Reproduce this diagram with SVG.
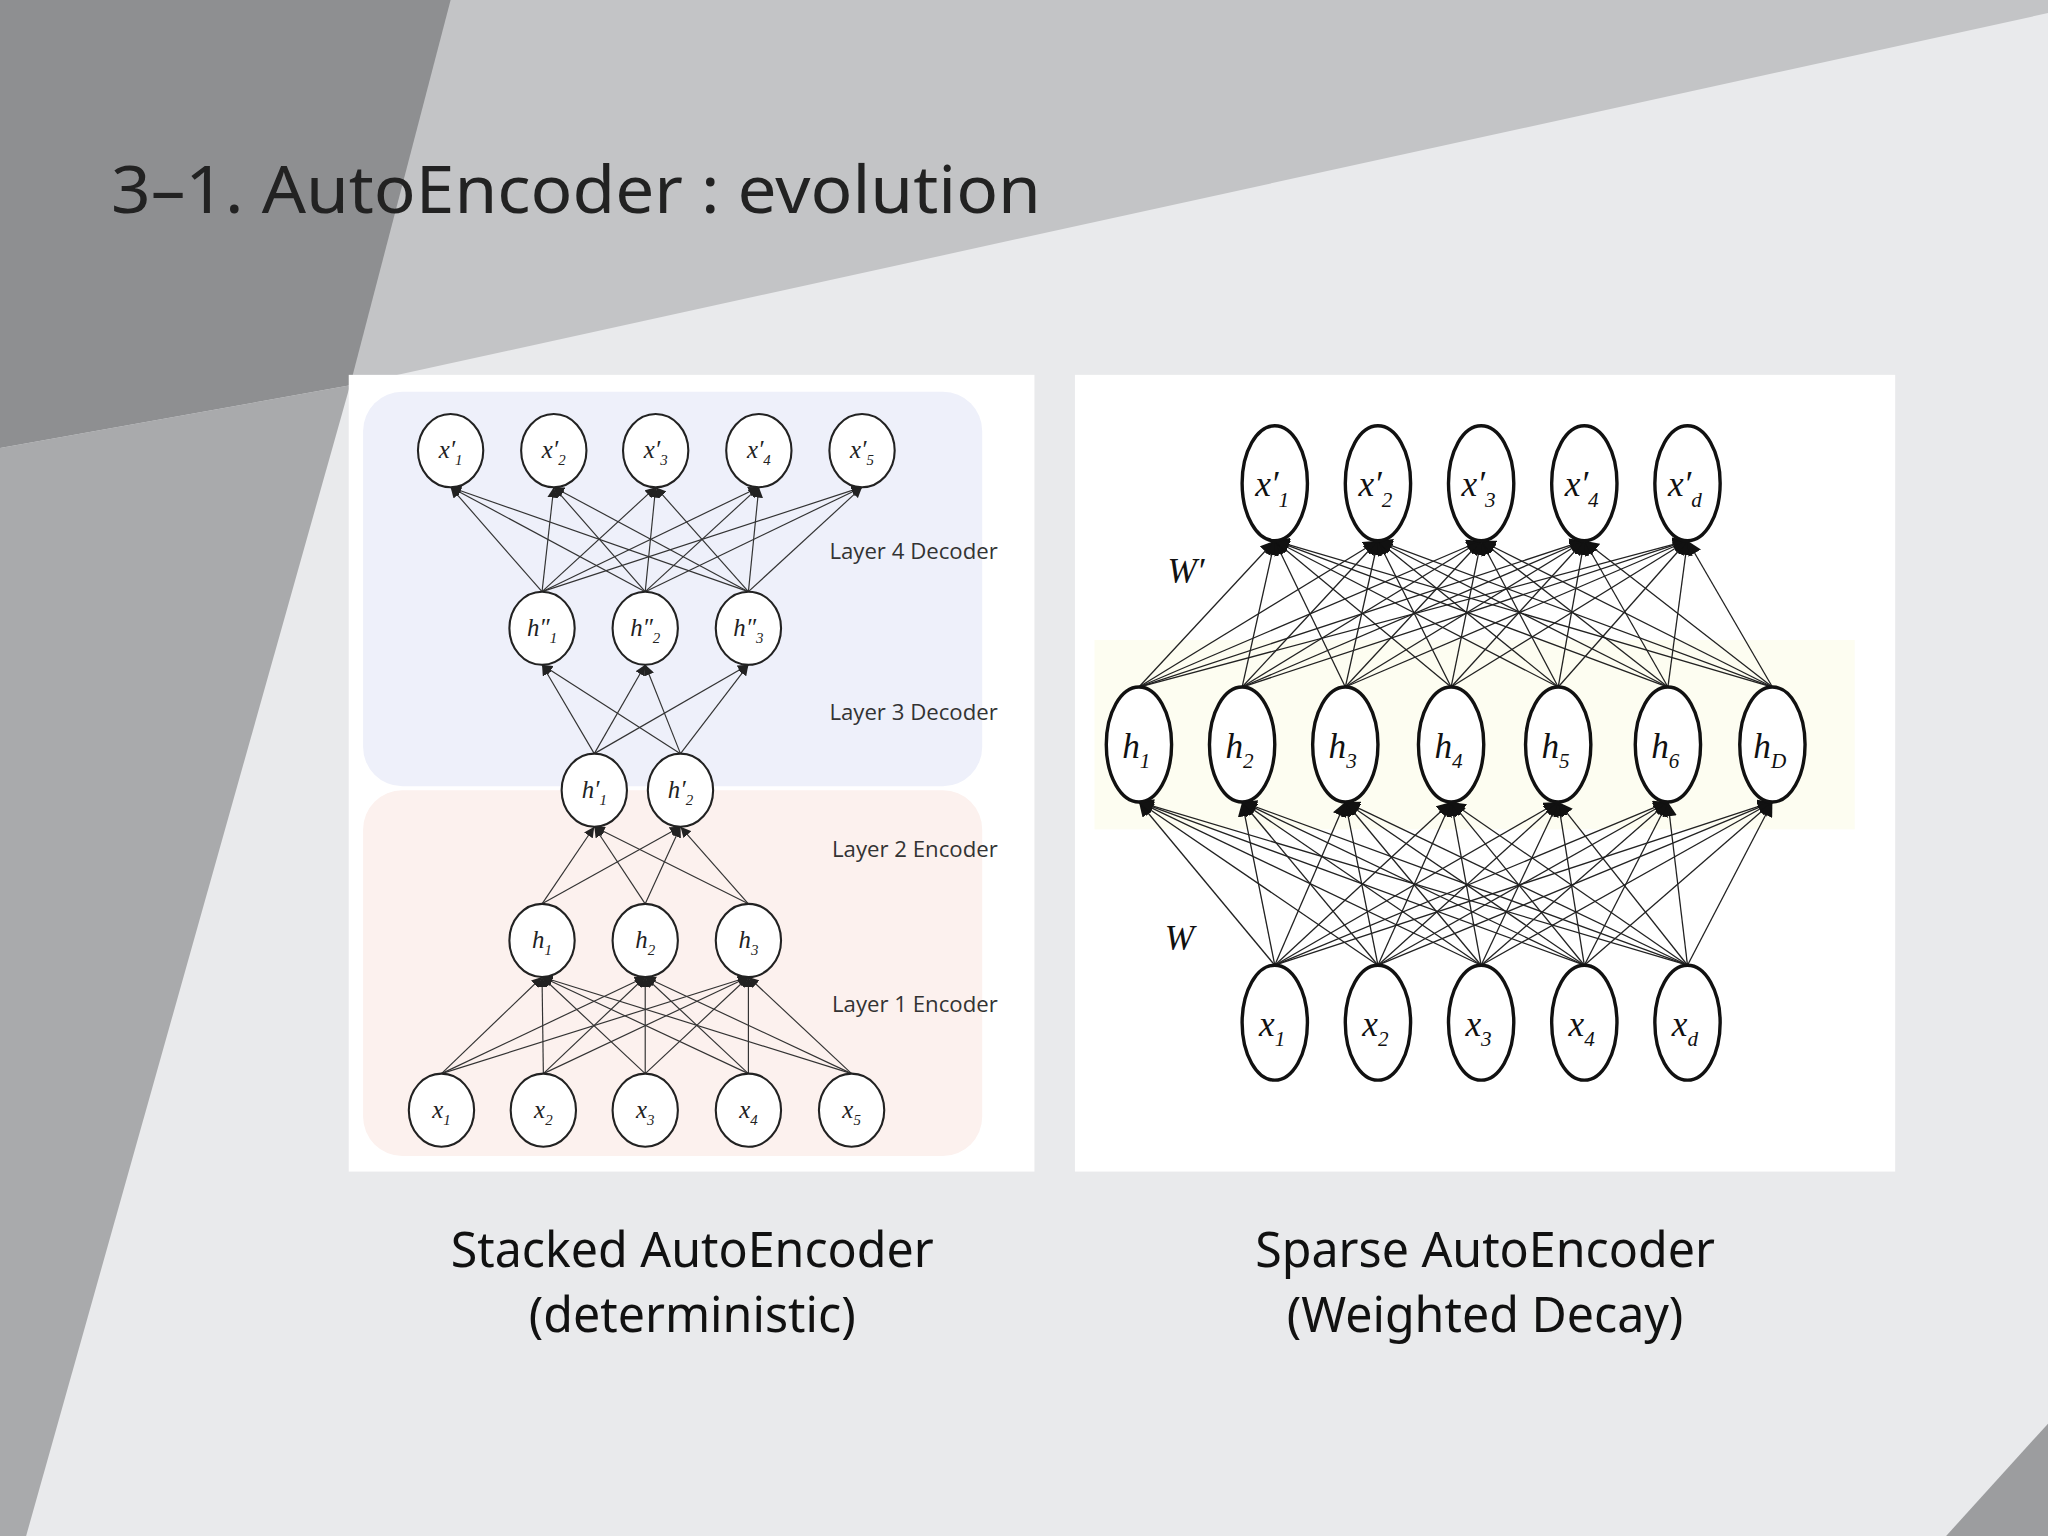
<svg xmlns="http://www.w3.org/2000/svg" width="2048" height="1536" viewBox="0 0 2048 1536">
<style>
.n{fill:#fff;stroke:#222;stroke-width:1.6}
.nr{fill:#fff;stroke:#111;stroke-width:2.6}
.e line{stroke:#333;stroke-width:0.9;marker-end:url(#a)}
.er line{stroke:#222;stroke-width:1;marker-end:url(#b)}
.l{font-family:'Liberation Serif',serif;font-style:italic;font-size:19px;fill:#222;text-anchor:middle}
.lr{font-family:'Liberation Serif',serif;font-style:italic;font-size:27px;fill:#111;text-anchor:middle}
.s{font-size:60%}
.ly{font-family:'Open Sans','DejaVu Sans',sans-serif;font-size:17px;fill:#333}
.cap{font-family:'Noto Sans','Open Sans',sans-serif;font-size:37px;fill:#111;text-anchor:middle}
</style>
<defs>
<marker id="a" viewBox="0 0 10 10" refX="10" refY="5" markerWidth="8" markerHeight="8" markerUnits="userSpaceOnUse" orient="auto"><path d="M0,0L10,5L0,10z" fill="#222"/></marker>
<marker id="b" viewBox="0 0 10 10" refX="10" refY="5" markerWidth="11" markerHeight="11" markerUnits="userSpaceOnUse" orient="auto"><path d="M0,0L10,5L0,10z" fill="#111"/></marker>
</defs>
<g transform="scale(1.30612)">
<g id="bg">
<rect width="1568" height="1176" fill="#e9eaec"/>
<polygon points="0,0 1568,0 1568,10 268,295 0,343" fill="#c3c4c6"/>
<polygon points="0,0 345,0 268,295 0,343" fill="#8e8f91"/>
<polygon points="0,343 268,295 20,1176 0,1176" fill="#a9aaac"/>
<polygon points="1490,1176 1568,1090 1568,1176" fill="#9c9d9f"/>
</g>
<text x="85" y="163" font-family="'Noto Sans','Open Sans',sans-serif" font-size="50" fill="#222" textLength="712" lengthAdjust="spacingAndGlyphs">3–1. AutoEncoder : evolution</text>

<g id="left-panel">
<rect x="267" y="287" width="525" height="610" fill="#fff"/>
<rect x="278" y="300" width="474" height="302" rx="30" fill="#eef0fa"/>
<rect x="278" y="605" width="474" height="280" rx="30" fill="#fcf1ee"/>
</g>
<g id="left-connectors" class="e">
<line x1="338" y1="822" x2="415" y2="748"/><line x1="338" y1="822" x2="494" y2="748"/><line x1="338" y1="822" x2="573" y2="748"/>
<line x1="416" y1="822" x2="415" y2="748"/><line x1="416" y1="822" x2="494" y2="748"/><line x1="416" y1="822" x2="573" y2="748"/>
<line x1="494" y1="822" x2="415" y2="748"/><line x1="494" y1="822" x2="494" y2="748"/><line x1="494" y1="822" x2="573" y2="748"/>
<line x1="573" y1="822" x2="415" y2="748"/><line x1="573" y1="822" x2="494" y2="748"/><line x1="573" y1="822" x2="573" y2="748"/>
<line x1="652" y1="822" x2="415" y2="748"/><line x1="652" y1="822" x2="494" y2="748"/><line x1="652" y1="822" x2="573" y2="748"/>
<line x1="415" y1="692" x2="455" y2="633"/><line x1="415" y1="692" x2="521" y2="633"/>
<line x1="494" y1="692" x2="455" y2="633"/><line x1="494" y1="692" x2="521" y2="633"/>
<line x1="573" y1="692" x2="455" y2="633"/><line x1="573" y1="692" x2="521" y2="633"/>
<line x1="455" y1="577" x2="415" y2="509"/><line x1="455" y1="577" x2="494" y2="509"/><line x1="455" y1="577" x2="573" y2="509"/>
<line x1="521" y1="577" x2="415" y2="509"/><line x1="521" y1="577" x2="494" y2="509"/><line x1="521" y1="577" x2="573" y2="509"/>
<line x1="415" y1="453" x2="345" y2="373"/><line x1="415" y1="453" x2="424" y2="373"/><line x1="415" y1="453" x2="502" y2="373"/><line x1="415" y1="453" x2="581" y2="373"/><line x1="415" y1="453" x2="660" y2="373"/>
<line x1="494" y1="453" x2="345" y2="373"/><line x1="494" y1="453" x2="424" y2="373"/><line x1="494" y1="453" x2="502" y2="373"/><line x1="494" y1="453" x2="581" y2="373"/><line x1="494" y1="453" x2="660" y2="373"/>
<line x1="573" y1="453" x2="345" y2="373"/><line x1="573" y1="453" x2="424" y2="373"/><line x1="573" y1="453" x2="502" y2="373"/><line x1="573" y1="453" x2="581" y2="373"/><line x1="573" y1="453" x2="660" y2="373"/>
</g>
<g id="left-nodes">
<g id="lx1"><ellipse class="n" cx="345" cy="345" rx="25" ry="28"/><text class="l" x="345" y="351">x′<tspan class="s" dy="5">1</tspan></text></g>
<g id="lx2"><ellipse class="n" cx="424" cy="345" rx="25" ry="28"/><text class="l" x="424" y="351">x′<tspan class="s" dy="5">2</tspan></text></g>
<g id="lx3"><ellipse class="n" cx="502" cy="345" rx="25" ry="28"/><text class="l" x="502" y="351">x′<tspan class="s" dy="5">3</tspan></text></g>
<g id="lx4"><ellipse class="n" cx="581" cy="345" rx="25" ry="28"/><text class="l" x="581" y="351">x′<tspan class="s" dy="5">4</tspan></text></g>
<g id="lx5"><ellipse class="n" cx="660" cy="345" rx="25" ry="28"/><text class="l" x="660" y="351">x′<tspan class="s" dy="5">5</tspan></text></g>
<g id="lhh1"><ellipse class="n" cx="415" cy="481" rx="25" ry="28"/><text class="l" x="415" y="487">h″<tspan class="s" dy="5">1</tspan></text></g>
<g id="lhh2"><ellipse class="n" cx="494" cy="481" rx="25" ry="28"/><text class="l" x="494" y="487">h″<tspan class="s" dy="5">2</tspan></text></g>
<g id="lhh3"><ellipse class="n" cx="573" cy="481" rx="25" ry="28"/><text class="l" x="573" y="487">h″<tspan class="s" dy="5">3</tspan></text></g>
<g id="lhp1"><ellipse class="n" cx="455" cy="605" rx="25" ry="28"/><text class="l" x="455" y="611">h′<tspan class="s" dy="5">1</tspan></text></g>
<g id="lhp2"><ellipse class="n" cx="521" cy="605" rx="25" ry="28"/><text class="l" x="521" y="611">h′<tspan class="s" dy="5">2</tspan></text></g>
<g id="lh1"><ellipse class="n" cx="415" cy="720" rx="25" ry="28"/><text class="l" x="415" y="726">h<tspan class="s" dy="5">1</tspan></text></g>
<g id="lh2"><ellipse class="n" cx="494" cy="720" rx="25" ry="28"/><text class="l" x="494" y="726">h<tspan class="s" dy="5">2</tspan></text></g>
<g id="lh3"><ellipse class="n" cx="573" cy="720" rx="25" ry="28"/><text class="l" x="573" y="726">h<tspan class="s" dy="5">3</tspan></text></g>
<g id="li1"><ellipse class="n" cx="338" cy="850" rx="25" ry="28"/><text class="l" x="338" y="856">x<tspan class="s" dy="5">1</tspan></text></g>
<g id="li2"><ellipse class="n" cx="416" cy="850" rx="25" ry="28"/><text class="l" x="416" y="856">x<tspan class="s" dy="5">2</tspan></text></g>
<g id="li3"><ellipse class="n" cx="494" cy="850" rx="25" ry="28"/><text class="l" x="494" y="856">x<tspan class="s" dy="5">3</tspan></text></g>
<g id="li4"><ellipse class="n" cx="573" cy="850" rx="25" ry="28"/><text class="l" x="573" y="856">x<tspan class="s" dy="5">4</tspan></text></g>
<g id="li5"><ellipse class="n" cx="652" cy="850" rx="25" ry="28"/><text class="l" x="652" y="856">x<tspan class="s" dy="5">5</tspan></text></g>
</g>
<text class="ly" x="635" y="428">Layer 4 Decoder</text>
<text class="ly" x="635" y="551">Layer 3 Decoder</text>
<text class="ly" x="637" y="656">Layer 2 Encoder</text>
<text class="ly" x="637" y="775">Layer 1 Encoder</text>

<g id="right-panel">
<rect x="823" y="287" width="628" height="610" fill="#fff"/>
<rect x="838" y="490" width="582" height="145" fill="#fdfdf1"/>
</g>
<g id="right-connectors" class="er">
<line x1="976" y1="739" x2="872" y2="614"/><line x1="976" y1="739" x2="951" y2="614"/><line x1="976" y1="739" x2="1030" y2="614"/><line x1="976" y1="739" x2="1111" y2="614"/><line x1="976" y1="739" x2="1193" y2="614"/><line x1="976" y1="739" x2="1277" y2="614"/><line x1="976" y1="739" x2="1357" y2="614"/>
<line x1="1055" y1="739" x2="872" y2="614"/><line x1="1055" y1="739" x2="951" y2="614"/><line x1="1055" y1="739" x2="1030" y2="614"/><line x1="1055" y1="739" x2="1111" y2="614"/><line x1="1055" y1="739" x2="1193" y2="614"/><line x1="1055" y1="739" x2="1277" y2="614"/><line x1="1055" y1="739" x2="1357" y2="614"/>
<line x1="1134" y1="739" x2="872" y2="614"/><line x1="1134" y1="739" x2="951" y2="614"/><line x1="1134" y1="739" x2="1030" y2="614"/><line x1="1134" y1="739" x2="1111" y2="614"/><line x1="1134" y1="739" x2="1193" y2="614"/><line x1="1134" y1="739" x2="1277" y2="614"/><line x1="1134" y1="739" x2="1357" y2="614"/>
<line x1="1213" y1="739" x2="872" y2="614"/><line x1="1213" y1="739" x2="951" y2="614"/><line x1="1213" y1="739" x2="1030" y2="614"/><line x1="1213" y1="739" x2="1111" y2="614"/><line x1="1213" y1="739" x2="1193" y2="614"/><line x1="1213" y1="739" x2="1277" y2="614"/><line x1="1213" y1="739" x2="1357" y2="614"/>
<line x1="1292" y1="739" x2="872" y2="614"/><line x1="1292" y1="739" x2="951" y2="614"/><line x1="1292" y1="739" x2="1030" y2="614"/><line x1="1292" y1="739" x2="1111" y2="614"/><line x1="1292" y1="739" x2="1193" y2="614"/><line x1="1292" y1="739" x2="1277" y2="614"/><line x1="1292" y1="739" x2="1357" y2="614"/>
<line x1="872" y1="526" x2="976" y2="414"/><line x1="872" y1="526" x2="1055" y2="414"/><line x1="872" y1="526" x2="1134" y2="414"/><line x1="872" y1="526" x2="1213" y2="414"/><line x1="872" y1="526" x2="1292" y2="414"/>
<line x1="951" y1="526" x2="976" y2="414"/><line x1="951" y1="526" x2="1055" y2="414"/><line x1="951" y1="526" x2="1134" y2="414"/><line x1="951" y1="526" x2="1213" y2="414"/><line x1="951" y1="526" x2="1292" y2="414"/>
<line x1="1030" y1="526" x2="976" y2="414"/><line x1="1030" y1="526" x2="1055" y2="414"/><line x1="1030" y1="526" x2="1134" y2="414"/><line x1="1030" y1="526" x2="1213" y2="414"/><line x1="1030" y1="526" x2="1292" y2="414"/>
<line x1="1111" y1="526" x2="976" y2="414"/><line x1="1111" y1="526" x2="1055" y2="414"/><line x1="1111" y1="526" x2="1134" y2="414"/><line x1="1111" y1="526" x2="1213" y2="414"/><line x1="1111" y1="526" x2="1292" y2="414"/>
<line x1="1193" y1="526" x2="976" y2="414"/><line x1="1193" y1="526" x2="1055" y2="414"/><line x1="1193" y1="526" x2="1134" y2="414"/><line x1="1193" y1="526" x2="1213" y2="414"/><line x1="1193" y1="526" x2="1292" y2="414"/>
<line x1="1277" y1="526" x2="976" y2="414"/><line x1="1277" y1="526" x2="1055" y2="414"/><line x1="1277" y1="526" x2="1134" y2="414"/><line x1="1277" y1="526" x2="1213" y2="414"/><line x1="1277" y1="526" x2="1292" y2="414"/>
<line x1="1357" y1="526" x2="976" y2="414"/><line x1="1357" y1="526" x2="1055" y2="414"/><line x1="1357" y1="526" x2="1134" y2="414"/><line x1="1357" y1="526" x2="1213" y2="414"/><line x1="1357" y1="526" x2="1292" y2="414"/>
</g>
<g id="right-nodes">
<g id="rxo1"><ellipse class="nr" cx="976" cy="370" rx="25" ry="44"/><text class="lr" x="974" y="380">x′<tspan class="s" dy="8">1</tspan></text></g>
<g id="rxo2"><ellipse class="nr" cx="1055" cy="370" rx="25" ry="44"/><text class="lr" x="1053" y="380">x′<tspan class="s" dy="8">2</tspan></text></g>
<g id="rxo3"><ellipse class="nr" cx="1134" cy="370" rx="25" ry="44"/><text class="lr" x="1132" y="380">x′<tspan class="s" dy="8">3</tspan></text></g>
<g id="rxo4"><ellipse class="nr" cx="1213" cy="370" rx="25" ry="44"/><text class="lr" x="1211" y="380">x′<tspan class="s" dy="8">4</tspan></text></g>
<g id="rxod"><ellipse class="nr" cx="1292" cy="370" rx="25" ry="44"/><text class="lr" x="1290" y="380">x′<tspan class="s" dy="8">d</tspan></text></g>
<g id="rh1"><ellipse class="nr" cx="872" cy="570" rx="25" ry="44"/><text class="lr" x="870" y="580">h<tspan class="s" dy="8">1</tspan></text></g>
<g id="rh2"><ellipse class="nr" cx="951" cy="570" rx="25" ry="44"/><text class="lr" x="949" y="580">h<tspan class="s" dy="8">2</tspan></text></g>
<g id="rh3"><ellipse class="nr" cx="1030" cy="570" rx="25" ry="44"/><text class="lr" x="1028" y="580">h<tspan class="s" dy="8">3</tspan></text></g>
<g id="rh4"><ellipse class="nr" cx="1111" cy="570" rx="25" ry="44"/><text class="lr" x="1109" y="580">h<tspan class="s" dy="8">4</tspan></text></g>
<g id="rh5"><ellipse class="nr" cx="1193" cy="570" rx="25" ry="44"/><text class="lr" x="1191" y="580">h<tspan class="s" dy="8">5</tspan></text></g>
<g id="rh6"><ellipse class="nr" cx="1277" cy="570" rx="25" ry="44"/><text class="lr" x="1275" y="580">h<tspan class="s" dy="8">6</tspan></text></g>
<g id="rhD"><ellipse class="nr" cx="1357" cy="570" rx="25" ry="44"/><text class="lr" x="1355" y="580">h<tspan class="s" dy="8">D</tspan></text></g>
<g id="rx1"><ellipse class="nr" cx="976" cy="783" rx="25" ry="44"/><text class="lr" x="974" y="793">x<tspan class="s" dy="8">1</tspan></text></g>
<g id="rx2"><ellipse class="nr" cx="1055" cy="783" rx="25" ry="44"/><text class="lr" x="1053" y="793">x<tspan class="s" dy="8">2</tspan></text></g>
<g id="rx3"><ellipse class="nr" cx="1134" cy="783" rx="25" ry="44"/><text class="lr" x="1132" y="793">x<tspan class="s" dy="8">3</tspan></text></g>
<g id="rx4"><ellipse class="nr" cx="1213" cy="783" rx="25" ry="44"/><text class="lr" x="1211" y="793">x<tspan class="s" dy="8">4</tspan></text></g>
<g id="rxd"><ellipse class="nr" cx="1292" cy="783" rx="25" ry="44"/><text class="lr" x="1290" y="793">x<tspan class="s" dy="8">d</tspan></text></g>
</g>
<text class="lr" x="908" y="446">W′</text>
<text class="lr" x="903" y="727">W</text>

<text class="cap" x="530" y="970">Stacked AutoEncoder</text>
<text class="cap" x="530" y="1020">(deterministic)</text>
<text class="cap" x="1137" y="970">Sparse AutoEncoder</text>
<text class="cap" x="1137" y="1020">(Weighted Decay)</text>
</g>
</svg>
